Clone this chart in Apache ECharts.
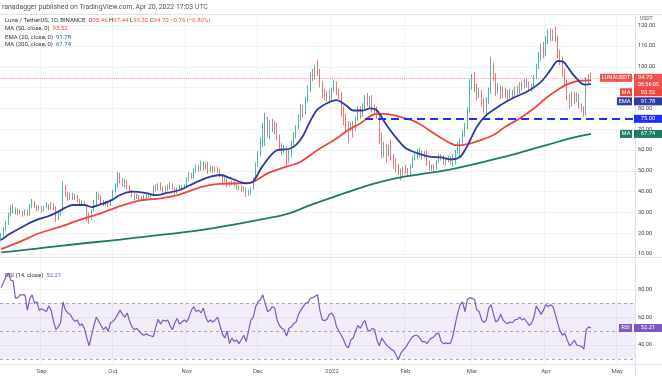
<!DOCTYPE html>
<html>
<head>
<meta charset="utf-8">
<script src="https://cdn.jsdelivr.net/npm/echarts@6/dist/echarts.min.js"></script>
<style>
  html, body { margin: 0; padding: 0; background: #fff; }
  #show_picture { width: 662px; height: 376px; }
</style>
</head>
<body>
<div id="show_picture"></div>
<script>
// daily candles from 2021-08-15, axis runs on to 2022-05-08
const dates = [];
for (let i = 0; i < 267; i++) {
    dates.push(new Date(Date.UTC(2021, 7, 15 + i)).toISOString().slice(0, 10));
}
const monthNames = ['Jan', 'Feb', 'Mar', 'Apr', 'May', 'Jun', 'Jul', 'Aug', 'Sep', 'Oct', 'Nov', 'Dec'];

// [open, close, low, high]
const candles = [
    [17,19,16,20],[19,22,18.5,23],[22,25,21,26],[25,29,24,30],[29,32,28,33.5],[32,30.5,29.5,34],[30.5,31,29,32.5],
    [31,29.5,28.5,32],[29.5,30.5,29,31.5],[30.5,29,28,31],[29,31,28.5,31.5],[31,29,28,31.5],[29,33,28.5,34],[33,35,32,36.5],
    [35,33,32,35.5],[33,31.5,30.5,33.5],[31.5,32.5,31,33.5],[32.5,31,30,33],[31,32.5,30.5,33],[32.5,33.5,32,35],[33.5,32,31,34],
    [32,33.5,31.5,35],[33.5,32,31,34.5],[32,27.5,25.5,33],[27.5,29,26.5,30],[29,31,28.5,31.5],[31,42,30.5,45],[42,39,37.5,43],
    [39,36.5,35.5,40],[36.5,38.5,36,39.5],[38.5,37,36,39.5],[37,38,36,39],[38,36,35,38.5],[36,34,33,36.5],[34,35,33.5,36],
    [35,33.5,33,35.5],[33.5,28,26,34],[28,27,24.5,30],[27,31,26.5,31.5],[31,35,30.5,36],[35,38,33,40],[38,37,36,39],
    [37,35,34,38],[35,33.5,33,36],[33.5,34.5,33,35.5],[34.5,33.5,32.5,35],[33.5,36,33,36.5],[36,40,35.5,41],[40,43,39.5,44],
    [43,47,42,49.5],[47,45.5,44,49],[45.5,44,42.5,46.5],[44,45,42,46],[45,42,41,45.5],[42,40.5,39.5,43],[40.5,38.5,37.5,41],
    [38.5,37,36,39.5],[37,38,36.5,39],[38,36.5,35.5,38.5],[36.5,37.5,36,38],[37.5,37,36,38.5],[37,38.5,36.5,39],[38.5,37.5,37,39],
    [37.5,38,36.5,38.5],[38,42,37.5,43],[42,41,40,43.5],[41,43,40.5,44],[43,41.5,40.5,44.5],[41.5,40.5,39.5,42.5],[40.5,42.5,40,43],
    [42.5,41.5,40.5,43.5],[41.5,43.5,41,44.5],[43.5,41.5,40.5,44],[41.5,39.5,38.5,42],[39.5,41.5,39,42],[41.5,42.5,41,43.5],
    [42.5,41.5,40.5,43],[41.5,43,41,43.5],[43,46,42.5,47],[46,48,45,49.5],[48,47,46,49],[47,49.5,46.5,51],[49.5,52,49,53],
    [52,50.5,49.5,53],[50.5,53.5,50,55],[53.5,51,50,54.5],[51,53,50.5,54],[53,50,48.5,54.5],[50,51.5,49.5,52.5],[51.5,50,49,52.5],
    [50,51,49.5,52],[51,50,49,52],[50,48,47,51],[48,45,44,48.5],[45,46,44.5,47],[46,43,42,46.5],[43,44.5,42.5,45],
    [44.5,43.5,43,45.5],[43.5,44,42.5,45],[44,41.5,41,44.5],[41.5,42.5,40.5,43],[42.5,40.5,40,43],[40.5,41.5,40,42.5],
    [41.5,38.5,37.5,42],[38.5,40,38,41],[40,41.5,38.5,42],[41.5,46,41,47],[46,53,45.5,54],[53,58,52,59.5],[58,63,57,66],
    [63,70,61.5,73],[70,74,62,78],[74,68,66,76],[68,73,65,74.5],[73,70,68.5,75],[70,72,67.5,74],[72,66,65,73],[66,62,60,67.5],
    [62,60,57.5,63.5],[60,61.5,58.5,62.5],[61.5,55,52.5,62],[55,59,54,60],[59,63.5,56.5,64.5],[63.5,67,62.5,68.5],[67,71,65.5,72],
    [71,75,70,77],[75,80,74,82],[80,78,75.5,81.5],[78,84,77,85.5],[84,89,83,91],[89,96,88,97.5],[96,95,93,99],[95,99,94,101],
    [99,97,95.5,103.5],[97,92,90,99],[92,87,85,93],[87,85.5,84,89.5],[85.5,87,83.5,88.5],[87,84,82.5,89],[84,89,83,90],
    [89,92,88,93.5],[92,88,86.5,93],[88,86,84.5,89.5],[86,80,76,88],[80,76,72,81],[76,72,68,77.5],[72,70,63.5,74],[70,72,69,73.5],
    [72,70,66,74],[70,75,69,76],[75,79,74,81],[79,77,75,81],[77,80,76,82.5],[80,85,79.5,86.5],[85,83,81,87.5],[83,85,80,86],
    [85,80,78,86.5],[80,79,77.5,82],[79,77,75,81],[77,67,63,77.5],[67,58,56,68.5],[58,62,56.5,64],[62,59.5,54,63],[59.5,61,57,62.5],
    [61,56,55,65],[56,55,51,58],[55,52,49.5,56],[52,50,48,53.5],[50,48.5,45.5,51],[48.5,51.5,46.5,52],[51.5,50,48.5,53],
    [50,48.5,47.5,51.5],[48.5,52,47.5,53],[52,56,51.5,57],[56,57,55,59],[57,58,55.5,60.5],[58,59,56.5,61],[59,57,55.5,60],
    [57,58,56,59.5],[58,54,52.5,60],[54,51,50,55],[51,52,50,53],[52,51,49.5,53],[51,54.5,50.5,55],[54.5,57,54,58],[57,56,55,58],
    [56,54,53,57.5],[54,55,52.5,56],[55,56.5,54,57.5],[56.5,54,53,57],[54,55.5,52,58],[55.5,59,53,60],[59,62,58,64],[62,64,57,65.5],
    [64,68,63,69.5],[68,71,66.5,73],[71,79,70,80.5],[79,92,78,94],[92,95,89,96.5],[95,90,88,97.5],[90,86,84,92],[86,88,85,90],
    [88,83,81,89],[83,80,78,85],[80,84,77,85.5],[84,88,82,90],[88,100,87,105],[100,95,93,102],[95,88,86,97],[88,90,87,92],
    [90,86,84.5,91],[86,89,85,90.5],[89,87,85,90],[87,85.5,84,89],[85.5,88,85,89.5],[88,86.5,85,89],[86.5,89,86,90.5],
    [89,88,86.5,91],[88,91.5,87,92.5],[91.5,90,88.5,93],[90,93,89.5,94],[93,92,90,94.5],[92,89,88,93],[89,91,88,92],
    [91,95,90,96],[95,100,94,101.5],[100,105,99,107],[105,110,103,111],[110,107,104,112],[107,113,105,115],[113,116,111,118],
    [116,114,112,118.5],[114,117,112.5,118],[117,114,112,119.5],[114,106,104,115],[106,104,101,108],[104,97,95,105],[97,93,91,99],
    [93,85,84,94],[85,82,80,87],[82,86,81,88],[86,84,82,88],[84,86,83,87.5],[86,81,80,87],[81,80,78.5,82.5],[80,78,76,81],
    [78,93,76.5,95],[93,95.46,92,96.5],[95.46,94.70,93.32,97.44]
];

// indicator lines: [day index, value]
const ma50 = [[0,12.4],[8,16],[16,20],[25,23.2],[33,26.4],[42,29.7],[50,33],[58,35.7],[67,36.8],[75,38.6],[84,42.2],[92,43.7],
    [100,44],[105,44.3],[112,48.8],[120,52],[126,54.4],[133,60],[140,64.8],[146,69.6],[151,72.8],[157,77.2],[161,77.4],[165,76.8],
    [168,75.8],[172,74.6],[176,72.5],[182,68],[189,63.2],[192,62.2],[196,62.8],[201,64.5],[207,67.2],[212,71.2],[218,75.2],
    [224,80],[229,84.9],[235,89.7],[239,92],[243,93.3],[248,93.52]];
const ema20 = [[0,16.8],[4,20],[8,22.5],[12,25],[16,26.9],[20,28.3],[24,30.4],[27,32.3],[30,33.6],[35,33.6],[38,32.6],[41,33.6],
    [46,35.7],[50,38.4],[55,40],[61,39.3],[65,38.3],[70,39.5],[75,40.8],[81,44],[85,46],[88,47.2],[92,48],[97,46.2],[103,44],
    [106,45],[110,52.5],[116,60],[121,60.5],[124,62.5],[127,67],[130,74],[133,79.5],[137,82.5],[141,84],[145,81.5],[148,79],
    [152,79],[155,80],[158,79],[162,72],[166,66],[170,61],[175,58.5],[180,56.8],[185,56.5],[189,55.5],[193,56.8],[196,62],
    [200,71.2],[204,76.8],[210,81.6],[215,84.9],[221,88],[227,92.8],[231,98.5],[234,102.8],[236,102.6],[240,97],[244,92],
    [246,91.4],[248,91.78]];
const ma200 = [[0,10.8],[10,12],[20,13.3],[30,14.6],[40,15.8],[50,17],[60,18.3],[70,19.6],[80,20.9],[90,22.6],[100,24.6],
    [110,26.8],[120,29.2],[130,33.5],[140,37.5],[150,41.5],[160,44.8],[170,47.3],[180,49],[190,51],[200,53.5],[210,56.3],
    [220,59.4],[230,62.6],[240,65.8],[248,67.74]];

const rsi = [81,85,89,91.5,86.5,86,73.6,74,76,76,76,65,73,76,70,71,65,66,65,64,68,65,57,51,53,56,71,65,63,62,
    59,57,58,54,55,52,45,39.5,47,54,60,57,54,51,53,50,56,57,59,62,65,62,60,63,57,53,51,52,50,48,
    47,48,47,46.5,46,53,58.5,55,58,57,58,54,51,56,59,55,56.5,58,56.5,60,65,67.5,64,65,63,66.5,60,56.5,58,56.5,
    58,60,54,48,45,50,41,45,42.5,43.6,41,44,47,42.5,50,58,60,67.5,71,72.5,76,70,64,65,67.5,66.5,
    58,54,52,51,46.5,52,53,55.5,56.5,62,65,67.5,70,70.5,73.5,74,75,76,65,58,57.5,58.5,62,63,60,53,
    50,47,43.6,39.5,38,43.6,45,50,54,52,55.5,57.5,51,50,52,51,43.6,39.5,45,42.5,40,38.5,37,36,
    33,29.5,34,36.4,38,41,43.6,46,47,47,45,42.5,42.5,41,43.6,45,46,48.4,48.4,42.5,41,41.5,41,41.5,
    47,55.5,63,69,71,64,72.5,74,73.5,72.5,65,64,58,56,58,66.5,69,62,56.5,58,62,58,56,55.5,56.5,
    56,58,58.5,60,58,59,56.5,54,55.5,60,68,65,62,65,69,67.5,69,67.5,62,55.5,50,47,48.4,43.6,
    39.5,41,43.6,40,39.5,39,37,51,53,52.21];

const priceTicks = [10, 20, 30, 40, 50, 60, 70, 80, 90, 100, 110, 120];
const rsiTicks = [40, 60, 80];
const lastPrice = 94.70;
const supportLevel = 75;
const supportFrom = '2022-01-15';

let show_picture = document.getElementById('show_picture');
let myChart = echarts.init(show_picture);
let option;

const FONT = 'Roboto';
const isMonthStart = (idx, val) => val.slice(8) === '01';
const gridLine = { color: '#f0f2f6', width: 1 };

option = {
    animation: false,
    backgroundColor: '#fff',
    textStyle: { fontFamily: FONT },
    grid: [
        { left: 0, right: 27, top: 15, height: 242 },
        { left: 0, right: 27, top: 258, height: 106 }
    ],
    xAxis: [
        {
            type: 'category', gridIndex: 0, data: dates,
            axisLine: { show: false }, axisTick: { show: false }, axisLabel: { show: false },
            splitLine: { show: true, interval: isMonthStart, lineStyle: gridLine }
        },
        {
            type: 'category', gridIndex: 1, data: dates,
            axisLine: { show: false }, axisTick: { show: false },
            axisLabel: {
                interval: isMonthStart, margin: 4, fontSize: 6, color: '#555', fontFamily: FONT,
                formatter: v => {
                    const m = +v.slice(5, 7);
                    return m === 1 ? v.slice(0, 4) : monthNames[m - 1];
                }
            },
            splitLine: { show: true, interval: isMonthStart, lineStyle: gridLine }
        }
    ],
    yAxis: [
        {
            type: 'value', gridIndex: 0, position: 'right', min: 8.6, max: 124.9,
            axisLine: { show: false },
            axisTick: { show: false, customValues: priceTicks },
            axisLabel: { customValues: priceTicks, margin: 3, fontSize: 5.6, color: '#444', fontFamily: FONT, formatter: v => v.toFixed(2) },
            splitLine: { show: true, lineStyle: gridLine }
        },
        {
            type: 'value', gridIndex: 1, position: 'right', min: 26.4, max: 102.4,
            axisLine: { show: false },
            axisTick: { show: false, customValues: rsiTicks },
            axisLabel: { customValues: rsiTicks, margin: 3, fontSize: 5.6, color: '#444', fontFamily: FONT, formatter: v => v.toFixed(2) },
            splitLine: { show: true, lineStyle: gridLine }
        }
    ],
    series: [
        {
            name: 'LUNAUSDT',
            type: 'candlestick',
            xAxisIndex: 0, yAxisIndex: 0,
            barWidth: 1.2,
            itemStyle: {
                color: 'rgba(38,166,154,0.8)', color0: 'rgba(239,83,80,0.8)',
                borderColor: 'rgba(38,166,154,0.8)', borderColor0: 'rgba(239,83,80,0.8)',
                borderWidth: 1
            },
            data: candles,
            markLine: {
                silent: true, symbol: 'none', label: { show: false },
                data: [
                    { yAxis: lastPrice, lineStyle: { color: 'rgba(239,83,80,0.55)', type: 'dotted', width: 1 } },
                    [
                        { coord: [supportFrom, supportLevel], lineStyle: { color: '#1f2fff', type: [8, 5], width: 2 } },
                        { coord: [dates[dates.length - 1], supportLevel] }
                    ]
                ]
            }
        },
        {
            name: 'MA 200', type: 'line', xAxisIndex: 0, yAxisIndex: 0, data: ma200,
            smooth: 0.3, showSymbol: false, lineStyle: { color: '#1a7c60', width: 1.8 }, z: 3
        },
        {
            name: 'MA 50', type: 'line', xAxisIndex: 0, yAxisIndex: 0, data: ma50,
            smooth: 0.3, showSymbol: false, lineStyle: { color: '#f4453a', width: 1.8 }, z: 3
        },
        {
            name: 'EMA 20', type: 'line', xAxisIndex: 0, yAxisIndex: 0, data: ema20,
            smooth: 0.3, showSymbol: false, lineStyle: { color: '#2b3d9e', width: 1.8 }, z: 4
        },
        {
            name: 'RSI', type: 'line', xAxisIndex: 1, yAxisIndex: 1, data: rsi,
            showSymbol: false, lineStyle: { color: '#7e57c2', width: 1.2 },
            markArea: {
                silent: true,
                itemStyle: { color: 'rgba(126,87,194,0.1)' },
                data: [[{ yAxis: 30 }, { yAxis: 70 }]]
            },
            markLine: {
                silent: true, symbol: 'none', label: { show: false },
                lineStyle: { color: 'rgba(120,123,134,0.6)', type: [3, 3], width: 1 },
                data: [{ yAxis: 70 }, { yAxis: 50 }, { yAxis: 30 }]
            }
        }
    ]
};

option && myChart.setOption(option);

// header, legends and the price tags on the right scale
const py = v => myChart.convertToPixel({ yAxisIndex: 0 }, v);
const ry = v => myChart.convertToPixel({ yAxisIndex: 1 }, v);
const f6 = '6px ' + FONT;
const fTag = '5.8px ' + FONT;

function box(x, yc, w, h, fill, text) {
    return [
        { type: 'rect', shape: { x: x, y: yc - h / 2, width: w, height: h }, style: { fill: fill }, z: 50 },
        { type: 'text', x: x + w / 2, y: yc, style: { text: text, fill: '#fff', font: fTag, textAlign: 'center', textVerticalAlign: 'middle' }, z: 51 }
    ];
}

let els = [];
// frame lines
els.push({ type: 'line', shape: { x1: 0, y1: 14.5, x2: 662, y2: 14.5 }, style: { stroke: '#e0e3eb', lineWidth: 1 } });
els.push({ type: 'line', shape: { x1: 0, y1: 257.5, x2: 662, y2: 257.5 }, style: { stroke: '#e0e3eb', lineWidth: 1 } });
els.push({ type: 'line', shape: { x1: 0, y1: 364.5, x2: 662, y2: 364.5 }, style: { stroke: '#e0e3eb', lineWidth: 1 } });
els.push({ type: 'line', shape: { x1: 635.5, y1: 14.5, x2: 635.5, y2: 376 }, style: { stroke: '#e0e3eb', lineWidth: 1 } });

els.push({ type: 'text', x: 2, y: 7, style: { text: 'ranadagger published on TradingView.com, Apr 20, 2022 17:03 UTC', fill: '#555', font: '6.9px ' + FONT, textVerticalAlign: 'middle' } });
els.push({
    type: 'text', x: 5, y: 20,
    style: {
        text: '{t|Luna / TetherUS, 1D, BINANCE}  {k|O}{r|95.46} {k|H}{r|97.44} {k|L}{r|93.32} {k|C}{r|94.70} {r|−0.76 (−0.80%)}',
        font: f6, textVerticalAlign: 'middle',
        rich: { t: { fill: '#333', font: f6 }, k: { fill: '#333', font: f6 }, r: { fill: '#ef5350', font: f6 } }
    }
});
[['MA (50, close, 0)', '93.52', '#f4453a', 28.5], ['EMA (20, close, 0)', '91.78', '#2b3d9e', 37], ['MA (200, close, 0)', '67.74', '#1a7c60', 44.5]]
    .forEach(([lbl, val, col, y]) => {
        els.push({
            type: 'text', x: 5, y: y,
            style: { text: '{t|' + lbl + '}  {v|' + val + '}', font: f6, textVerticalAlign: 'middle',
                rich: { t: { fill: '#333', font: f6 }, v: { fill: col, font: f6 } } }
        });
    });
els.push({
    type: 'text', x: 5, y: 275,
    style: { text: '{t|RSI (14, close)}  {v|52.21}', font: f6, textVerticalAlign: 'middle',
        rich: { t: { fill: '#333', font: f6 }, v: { fill: '#7e57c2', font: f6 } } }
});
els.push({ type: 'text', x: 640, y: 19, style: { text: 'USDT', fill: '#555', font: '5px ' + FONT, textVerticalAlign: 'middle' } });

// last price tag (two lines)
const yLast = py(lastPrice);
els = els.concat(box(600, yLast, 32, 8, '#ef5350', 'LUNAUSDT'));
els.push({ type: 'rect', shape: { x: 634, y: yLast - 4, width: 28, height: 15 }, style: { fill: '#ef5350' }, z: 50 });
els.push({ type: 'text', x: 638, y: yLast, style: { text: '94.70', fill: '#fff', font: fTag, textVerticalAlign: 'middle' }, z: 51 });
els.push({ type: 'text', x: 638, y: yLast + 7, style: { text: '06:56:05', fill: '#fff', font: '5.4px ' + FONT, textVerticalAlign: 'middle' }, z: 51 });

// stacked indicator tags, pushed below the price tag
const yMa50 = py(93.52) + 12;
els = els.concat(box(620, yMa50, 12, 8, '#f4453a', 'MA'), box(634, yMa50, 28, 8, '#f4453a', '93.52'));
const yEma = py(91.78) + 17.4;
els = els.concat(box(617, yEma, 15, 8, '#2b3d9e', 'EMA'), box(634, yEma, 28, 8, '#2b3d9e', '91.78'));
els = els.concat(box(634, py(supportLevel), 28, 8, '#1f2fff', '75.00'));
els = els.concat(box(620, py(67.74), 12, 8, '#1a7c60', 'MA'), box(634, py(67.74), 28, 8, '#1a7c60', '67.74'));
els = els.concat(box(619, ry(52.21), 13, 8, '#7e57c2', 'RSI'), box(634, ry(52.21), 28, 8, '#7e57c2', '52.21'));

myChart.setOption({ graphic: { elements: els } });
</script>
</body>
</html>
